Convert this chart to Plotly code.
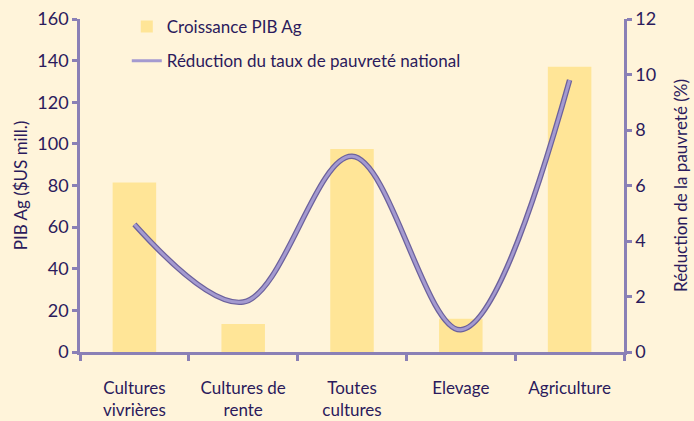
import plotly.graph_objects as go

categories = ["Cultures<br>vivrières", "Cultures de<br>rente", "Toutes<br>cultures", "Elevage", "Agriculture"]
pib_ag = [81.5, 13.5, 97.5, 16, 137]
reduction_pauvrete = [4.6, 1.8, 7.05, 0.8, 9.8]

TEXT = "#2b1a5c"
AXIS = "#8a80b6"
BG = "#fff4da"
BAR = "#ffe597"
FONT = "Lato"

fig = go.Figure()
fig.add_trace(go.Bar(
    x=categories, y=pib_ag, name="Croissance PIB Ag",
    marker=dict(color=BAR, line=dict(width=0)), width=0.4,
    legendgroup="a",
))
fig.add_trace(go.Scatter(
    x=categories, y=reduction_pauvrete, yaxis="y2", mode="lines",
    line=dict(color="#6c619c", width=5.5, shape="spline"),
    showlegend=False, hoverinfo="skip",
))
fig.add_trace(go.Scatter(
    x=categories, y=reduction_pauvrete, yaxis="y2", mode="lines",
    name="Réduction du taux de pauvreté national",
    line=dict(color="#a49ad0", width=3, shape="spline"),
    legendgroup="b",
))

fig.update_layout(
    width=694, height=421,
    paper_bgcolor=BG, plot_bgcolor=BG,
    margin=dict(l=80, r=70, t=19, b=69, autoexpand=False),
    font=dict(family=FONT, size=17, color=TEXT),
    showlegend=True,
    legend=dict(x=0.086, y=1.03, xanchor="left", yanchor="top",
                bgcolor="rgba(0,0,0,0)", font=dict(size=17, color=TEXT),
                traceorder="grouped", tracegroupgap=9),
    xaxis=dict(
        type="category", showline=True, linecolor=AXIS, linewidth=2.5,
        ticks="outside", tickson="boundaries", ticklen=6, tickwidth=2.5, tickcolor=AXIS,
        showgrid=False, ticklabelstandoff=19, tickfont=dict(size=17, color=TEXT),
        range=[-0.5, 4.5], automargin=False,
    ),
    yaxis=dict(
        range=[0, 160], dtick=20, showline=True, linecolor=AXIS, linewidth=2.5,
        ticks="outside", ticklen=5, tickwidth=2.5, tickcolor=AXIS,
        showgrid=False, zeroline=False, automargin=False,
        title=dict(text="PIB Ag ($US mill.)", font=dict(size=17, color=TEXT), standoff=6),
        tickfont=dict(size=18, color=TEXT),
    ),
    yaxis2=dict(
        range=[0, 12], dtick=2, overlaying="y", side="right",
        showline=True, linecolor=AXIS, linewidth=2.5,
        ticks="outside", ticklen=5, tickwidth=2.5, tickcolor=AXIS,
        showgrid=False, zeroline=False, automargin=False,
        title=dict(text="Réduction de la pauvreté (%)", font=dict(size=17, color=TEXT), standoff=20),
        tickfont=dict(size=18, color=TEXT),
    ),
)

fig.write_html("out.html", config={"displayModeBar": False},
               post_script="document.body.style.margin='0';")
